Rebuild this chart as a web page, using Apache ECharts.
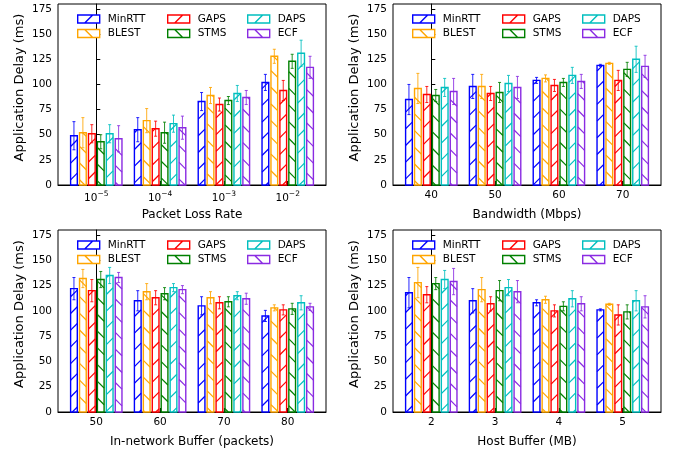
<!DOCTYPE html>
<html>
<head>
<meta charset="utf-8">
<script src="https://cdn.jsdelivr.net/npm/echarts@6/dist/echarts.min.js"></script>
<style>
html, body { margin: 0; padding: 0; background: #fff; }
#chart { width: 680px; height: 452px; }
</style>
</head>
<body>
<div id="chart"></div>
<script>
var schemes = ['MinRTT', 'BLEST', 'GAPS', 'STMS', 'DAPS', 'ECF'];
var colors = ['#0000ff', '#ffa500', '#ff0000', '#008000', '#00bfbf', '#8a2be2'];
var hatches = ['/', '\\', '/', '\\', '/', '\\'];
var yTicks = [0, 25, 50, 75, 100, 125, 150, 175];

// packet loss rate (rows follow schemes)
var lossLabels = ['{b|10}{sup|\u22125}', '{b|10}{sup|\u22124}', '{b|10}{sup|\u22123}', '{b|10}{sup|\u22122}'];
var lossMean = [
  [49, 55, 83, 102],
  [52, 64, 89, 128],
  [51, 56, 80, 94],
  [43, 52, 84, 123],
  [51, 61, 91, 131],
  [46, 57, 87, 117]
];
var lossErr = [
  [14, 12, 9, 8],
  [15, 12, 8, 7],
  [9, 7.5, 6.5, 10],
  [7, 10.5, 4, 7],
  [9, 8.5, 8, 13],
  [13, 11.5, 7, 11]
];

// bandwidth
var bwLabels = ['40', '50', '60', '70'];
var bwMean = [
  [85, 98, 104, 119],
  [96, 98, 106, 121],
  [90, 91, 99, 104],
  [89, 92, 102, 115],
  [97, 101, 109, 125],
  [93, 97, 103, 118]
];
var bwErr = [
  [15, 12, 3, 1],
  [15, 12, 3.5, 1],
  [8, 7, 6, 10],
  [6, 10, 4, 7],
  [9, 8, 8, 13],
  [13, 11, 7, 11]
];

// in-network buffer
var netLabels = ['50', '60', '70', '80'];
var netMean = [
  [122, 110, 105, 95],
  [132, 119, 113, 103],
  [120, 113, 108, 101],
  [131, 117, 109, 102],
  [135, 123, 115, 108],
  [133, 121, 112, 104]
];
var netErr = [
  [11, 10, 9, 5.5],
  [9, 8, 6, 3],
  [11, 7, 6, 5],
  [8, 6, 5, 5.5],
  [8, 4, 4, 7],
  [5, 4, 5.5, 3.5]
];

// host buffer
var hostLabels = ['2', '3', '4', '5'];
var hostMean = [
  [118, 110, 108, 101],
  [128, 121, 111, 106.5],
  [116, 107, 100, 96],
  [127, 120, 104.5, 99],
  [131, 123, 112, 110],
  [129, 119, 107, 104]
];
var hostErr = [
  [15, 12, 3, 1],
  [15, 12, 3.5, 1],
  [8, 7, 6, 10],
  [6, 10, 4.5, 7],
  [9, 8, 8, 10],
  [13, 11, 7, 11]
];

var panels = [
  {labels: lossLabels, mean: lossMean, err: lossErr, title: 'Packet Loss Rate', left: 58, top: 4, height: 181},
  {labels: bwLabels, mean: bwMean, err: bwErr, title: 'Bandwidth (Mbps)', left: 393, top: 4, height: 181},
  {labels: netLabels, mean: netMean, err: netErr, title: 'In-network Buffer (packets)', left: 58, top: 230, height: 182},
  {labels: hostLabels, mean: hostMean, err: hostErr, title: 'Host Buffer (MB)', left: 393, top: 230, height: 182}
];

var PITCH = 0.14;    // distance between bars in a group (axis units)
var BAR_W = 0.105;   // bar width (axis units)
var HATCH = 16.7;    // hatch spacing in px
var FONT = 'DejaVu Sans';

// diagonal hatch segments clipped to the bar rectangle, aligned on a global pixel grid
function hatchLines(L, T, R, B, dir) {
  var out = [], k, x1, x2;
  if (dir === '/') {
    for (k = Math.ceil((L + T) / HATCH) * HATCH; k <= R + B; k += HATCH) {
      x1 = Math.max(L, k - B); x2 = Math.min(R, k - T);
      if (x2 > x1) out.push([x1, k - x1, x2, k - x2]);
    }
  } else {
    for (k = Math.ceil((L - B) / HATCH) * HATCH; k <= R - T; k += HATCH) {
      x1 = Math.max(L, k + T); x2 = Math.min(R, k + B);
      if (x2 > x1) out.push([x1, x1 - k, x2, x2 - k]);
    }
  }
  return out;
}

function makeRender(si) {
  return function (params, api) {
    var x = api.value(0) + (si - 2.5) * PITCH;
    var v = api.value(1), e = api.value(2);
    var pa = api.coord([x - BAR_W / 2, v]);
    var pb = api.coord([x + BAR_W / 2, 0]);
    var L = pa[0], T = pa[1], R = pb[0], B = pb[1];
    var c = colors[si];
    var kids = [{
      type: 'rect',
      shape: {x: L, y: T, width: R - L, height: B - T},
      style: {fill: '#fff', stroke: c, lineWidth: 1.4}
    }];
    hatchLines(L, T, R, B, hatches[si]).forEach(function (s) {
      kids.push({type: 'line', shape: {x1: s[0], y1: s[1], x2: s[2], y2: s[3]},
        style: {stroke: c, lineWidth: 1.2}});
    });
    // error bar
    var hi = api.coord([x, v + e]), lo = api.coord([x, v - e]);
    var es = {stroke: c, lineWidth: 1, opacity: 0.85};
    kids.push({type: 'line', shape: {x1: hi[0], y1: hi[1], x2: lo[0], y2: lo[1]}, style: es});
    kids.push({type: 'line', shape: {x1: hi[0] - 1.5, y1: hi[1], x2: hi[0] + 1.5, y2: hi[1]}, style: es});
    kids.push({type: 'line', shape: {x1: lo[0] - 1.5, y1: lo[1], x2: lo[0] + 1.5, y2: lo[1]}, style: es});
    return {type: 'group', children: kids};
  };
}

var grids = [], xAxes = [], yAxes = [], series = [], legends = [];
var colOffsets = [19, 109, 189];

panels.forEach(function (p, g) {
  grids.push({left: p.left, top: p.top, width: 268, height: p.height,
    show: true, borderColor: '#000', borderWidth: 1, backgroundColor: 'transparent'});

  xAxes.push({
    gridIndex: g, type: 'value', min: -0.6, max: 3.6,
    axisLine: {show: true, onZero: false, lineStyle: {color: '#000', width: 1}},
    axisTick: {show: true, inside: true, length: 4, customValues: [0, 1, 2, 3],
      lineStyle: {color: '#000', width: 1.2}},
    axisLabel: {
      customValues: [0, 1, 2, 3], margin: 5, fontFamily: FONT, fontSize: 10.5, color: '#000',
      formatter: function (v) { return p.labels[Math.round(v)]; },
      rich: {
        b: {fontFamily: FONT, fontSize: 10.5, color: '#000', lineHeight: 14, verticalAlign: 'bottom'},
        sup: {fontFamily: FONT, fontSize: 7.5, color: '#000', lineHeight: 9, verticalAlign: 'top'}
      }
    },
    splitLine: {show: false},
    name: p.title, nameLocation: 'middle', nameGap: 24,
    nameTextStyle: {fontFamily: FONT, fontSize: 12, color: '#000'}
  });

  yAxes.push({
    gridIndex: g, type: 'value', min: 0, max: 180, interval: 25,
    axisLine: {show: true, lineStyle: {color: '#000', width: 1}},
    axisTick: {show: true, inside: true, length: 4, customValues: yTicks,
      lineStyle: {color: '#000', width: 1}},
    axisLabel: {customValues: yTicks, margin: 6, fontFamily: FONT, fontSize: 10.5, color: '#000'},
    splitLine: {show: false},
    name: 'Application Delay (ms)', nameLocation: 'middle', nameGap: 32,
    nameTextStyle: {fontFamily: FONT, fontSize: 13, color: '#000', padding: [0, 0, 0, 14]}
  });

  schemes.forEach(function (name, si) {
    series.push({
      type: 'custom', name: name, xAxisIndex: g, yAxisIndex: g,
      itemStyle: {color: colors[si]},
      renderItem: makeRender(si),
      encode: {x: 0, y: 1},
      data: p.mean[si].map(function (v, i) { return [i, v, p.err[si][i]]; })
    });
  });

  // legend: 3 columns x 2 rows, filled column by column
  for (var col = 0; col < 3; col++) {
    legends.push({
      orient: 'vertical', left: p.left + colOffsets[col], top: p.top + 9, padding: 0,
      itemWidth: 22, itemHeight: 8, itemGap: 2.5, selectedMode: false,
      textStyle: {fontFamily: FONT, fontSize: 10.5, color: '#000', lineHeight: 12, padding: [0, 0, 0, 3]},
      data: [col * 2, col * 2 + 1].map(function (si) {
        return {
          name: schemes[si],
          icon: hatches[si] === '/' ? 'path://M0,0H22V8H0Z M7,8L15,0' : 'path://M0,0H22V8H0Z M7,0L15,8',
          itemStyle: {color: '#fff', borderColor: colors[si], borderWidth: 1.4}
        };
      })
    });
  }
});

var chart = echarts.init(document.getElementById('chart'), null, {renderer: 'canvas'});
chart.setOption({
  animation: false,
  backgroundColor: '#fff',
  grid: grids,
  xAxis: xAxes,
  yAxis: yAxes,
  legend: legends,
  series: series
});
</script>
</body>
</html>
